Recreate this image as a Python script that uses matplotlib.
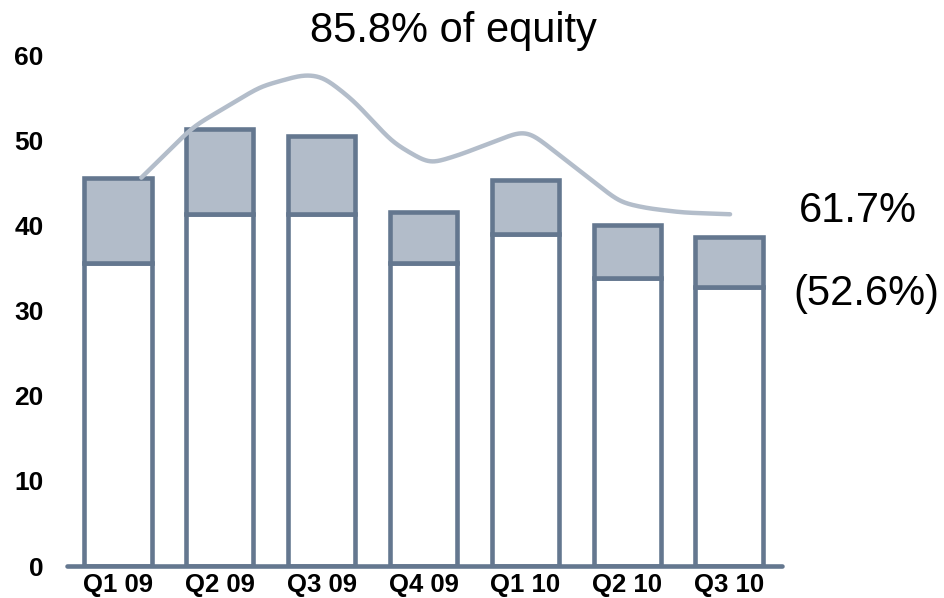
import numpy as np
import matplotlib
matplotlib.use("Agg")
import matplotlib.pyplot as plt

plt.rcParams['font.family'] = ['Liberation Sans', 'DejaVu Sans']

categories = ["Q1 09", "Q2 09", "Q3 09", "Q4 09", "Q1 10", "Q2 10", "Q3 10"]
base_values = [35.6, 41.3, 41.3, 35.6, 39.0, 33.8, 32.8]
total_values = [45.6, 51.3, 50.5, 41.6, 45.3, 40.0, 38.6]
top_values = [t - b for t, b in zip(total_values, base_values)]

# decorative "% of equity" curve (x in category index units)
curve_x = [0.23, 0.74, 1.40, 1.82, 2.01, 2.31, 2.70, 3.06, 3.36, 3.95, 4.05, 4.93, 5.20, 5.55, 6.01]
curve_y = [45.6, 51.6, 56.3, 57.7, 57.5, 54.7, 49.7, 47.2, 48.3, 51.0, 50.9, 42.7, 42.0, 41.5, 41.3]

yticks = [0, 10, 20, 30, 40, 50, 60]

edge = "#64778f"
fill_top = "#b2bcc9"
line_c = "#b3bdca"

fig = plt.figure(figsize=(9.44, 5.98), dpi=100)
ax = fig.add_axes([67/944, 1 - 566/598, 715/944, (566-55)/598])

x = np.arange(len(categories))
ax.bar(x, base_values, width=0.66, color="white", edgecolor=edge, linewidth=3.3, zorder=2)
ax.bar(x, top_values, bottom=base_values, width=0.66, color=fill_top, edgecolor=edge,
       linewidth=3.3, zorder=2)

# smooth the read polyline with a small gaussian kernel (rendering only)
fx = np.linspace(curve_x[0], curve_x[-1], 800)
fy = np.interp(fx, curve_x, curve_y)
sig = 11
n = 3 * sig
k = np.exp(-0.5 * (np.arange(-n, n + 1) / sig) ** 2)
k /= k.sum()
left = 2 * fy[0] - fy[1:n + 1][::-1]
right = 2 * fy[-1] - fy[-n - 1:-1][::-1]
sy = np.convolve(np.concatenate([left, fy, right]), k, mode='valid')
ax.plot(fx, sy, color=line_c, linewidth=3.2, solid_capstyle='round', zorder=3, clip_on=False)

ax.set_xlim(-0.5, 6.52)
ax.set_ylim(0, 60)
ax.set_yticks(yticks)
ax.set_yticklabels([str(v) for v in yticks], fontsize=19, fontweight='bold')
ax.set_xticks(x)
ax.set_xticklabels(categories, fontsize=18.5, fontweight='bold')
ax.tick_params(axis='y', length=0, pad=17)
ax.tick_params(axis='x', length=0, pad=5)
for s in ['top', 'right', 'left']:
    ax.spines[s].set_visible(False)
ax.spines['bottom'].set_color(edge)
ax.spines['bottom'].set_linewidth(3.3)
ax.spines['bottom'].set_capstyle('round')
ax.spines['bottom'].set_zorder(4)

fig.text(453/944, 1 - 31/598, "85.8% of equity", fontsize=30, ha='center', va='center')
fig.text(858/944, 1 - 211/598, "61.7%", fontsize=30, ha='center', va='center')
fig.text(866/944, 1 - 294/598, "(52.6%)", fontsize=30, ha='center', va='center')

fig.savefig("out.png", dpi=100)
